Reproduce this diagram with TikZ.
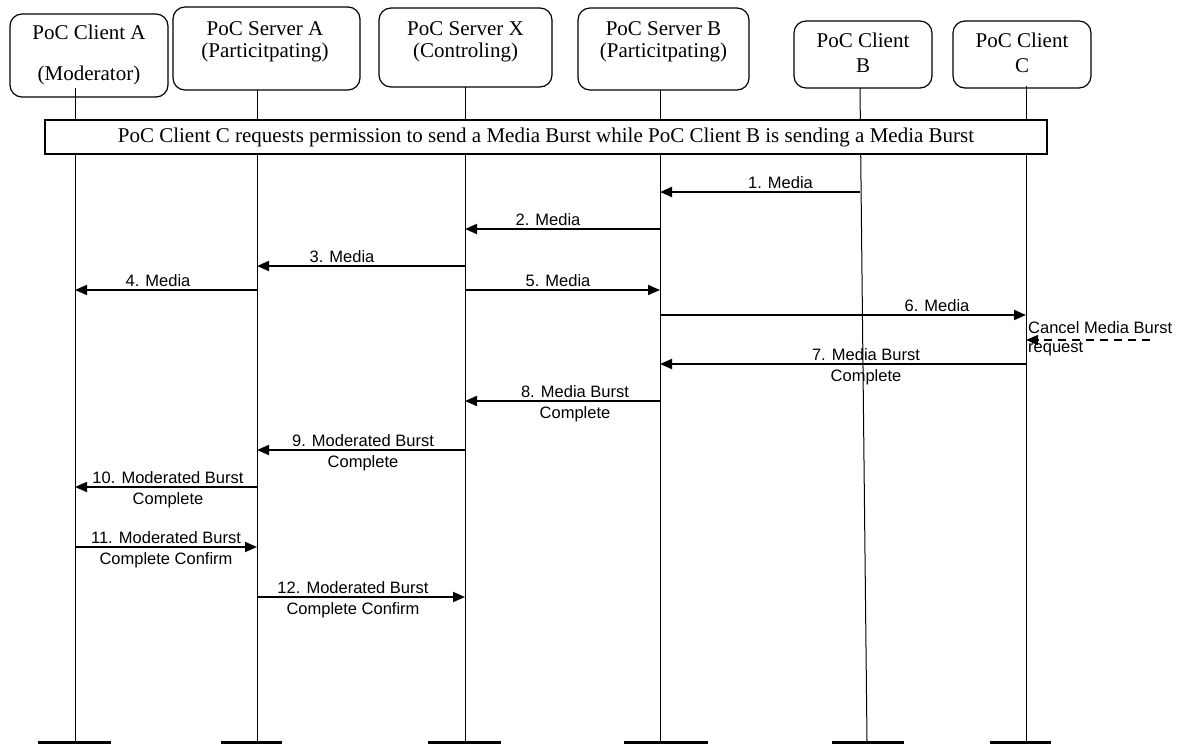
\documentclass[tikz,border=0pt]{standalone}
\usepackage{fontspec}
\setmainfont{Liberation Serif}
\newfontfamily\arialf{Liberation Sans}
\usetikzlibrary{arrows.meta}
\newcommand\hdrtxt[3]{\begin{tabular}[t]{@{}c@{}}#1\\[#3]#2\end{tabular}}
\newcommand\twol[2]{\begin{tabular}[t]{@{}c@{}}#1\\#2\end{tabular}}
\begin{document}
\begin{tikzpicture}[x=1pt,y=-1pt,
  hbox/.style={draw, line width=1.2pt, rounded corners=12pt, inner sep=0pt},
  htext/.style={font=\fontsize{21}{22}\selectfont, inner sep=0pt, anchor=base},
  life/.style={line width=1pt},
  endbar/.style={line width=3pt},
  msg/.style={line width=1.8pt, -{Triangle[length=12pt,width=10pt]}},
  cancelmsg/.style={line width=1.5pt, dash pattern=on 8pt off 6pt, -{Triangle[length=12pt,width=10pt]}},
  lbl/.style={font=\arialf\fontsize{16.5}{21.5}\selectfont, inner sep=0pt, anchor=base},
]
\useasboundingbox[fill=white] (0,0) rectangle (1184,744);

% header boxes
\node[hbox, minimum width=158pt, minimum height=83pt] (ca) at (89,55.5) {};
\node[hbox, minimum width=187pt, minimum height=83pt] (sa) at (266.5,48.5) {};
\node[hbox, minimum width=173pt, minimum height=79pt] (sx) at (465.5,47.5) {};
\node[hbox, minimum width=171pt, minimum height=82pt] (sb) at (663.5,49) {};
\node[hbox, minimum width=138pt, minimum height=67pt] (cb) at (863,54.5) {};
\node[hbox, minimum width=138pt, minimum height=67pt] (cc) at (1022,54.5) {};

\node[htext] (tca) at (89,39.5) {\hdrtxt{PoC Client A}{(Moderator)}{19pt}};
\node[htext] (tsa) at (265,35) {\hdrtxt{PoC Server A}{(Particitpating)}{0pt}};
\node[htext] (tsx) at (465.5,35) {\hdrtxt{PoC Server X}{(Controling)}{0pt}};
\node[htext] (tsb) at (663.5,35) {\hdrtxt{PoC Server B}{(Particitpating)}{0pt}};
\node[htext] (tcb) at (863,47) {\hdrtxt{PoC Client}{B}{3pt}};
\node[htext] (tcc) at (1022,47) {\hdrtxt{PoC Client}{C}{3pt}};

% lifelines
\coordinate (LA) at (75,88);   \coordinate (LAb) at (75,741);
\coordinate (LSA) at (257,90); \coordinate (LSAb) at (257,741);
\coordinate (LX) at (465,87);  \coordinate (LXb) at (465,741);
\coordinate (LB) at (660,90);  \coordinate (LBb) at (660,741);
\coordinate (LCB) at (860,88); \coordinate (LCBb) at (867,741);
\coordinate (LC) at (1026,86); \coordinate (LCb) at (1026,741);
\draw[life] (LA) -- (LAb);
\draw[life] (LSA) -- (LSAb);
\draw[life] (LX) -- (LXb);
\draw[life] (LB) -- (LBb);
\draw[life] (LCB) -- (LCBb);
\draw[life] (LC) -- (LCb);

% end bars
\coordinate (ba1) at (38,742.5);  \coordinate (ba2) at (111,742.5);
\coordinate (bsa1) at (221,742.5); \coordinate (bsa2) at (282,742.5);
\coordinate (bx1) at (428,742.5); \coordinate (bx2) at (501,742.5);
\coordinate (bb1) at (624,742.5); \coordinate (bb2) at (708,742.5);
\coordinate (bcb1) at (832,742.5); \coordinate (bcb2) at (904,742.5);
\coordinate (bc1) at (990,742.5); \coordinate (bc2) at (1051,742.5);
\draw[endbar] (ba1) -- (ba2);
\draw[endbar] (bsa1) -- (bsa2);
\draw[endbar] (bx1) -- (bx2);
\draw[endbar] (bb1) -- (bb2);
\draw[endbar] (bcb1) -- (bcb2);
\draw[endbar] (bc1) -- (bc2);

% banner
\node[draw, line width=1.2pt, fill=white, inner sep=0pt, minimum width=1002pt, minimum height=34pt,
      font=\fontsize{21}{22}\selectfont] (banner) at (546,137)
  {PoC Client C requests permission to send a Media Burst while PoC Client B is sending a Media Burst};

% messages
\draw[msg] (LCB |- 0,192) -- (LB |- 0,192);
\node[lbl] (m1) at (780.5,188) {1. Media};
\draw[msg] (LB |- 0,229) -- (LX |- 0,229);
\node[lbl] (m2) at (548,225) {2. Media};
\draw[msg] (LX |- 0,266) -- (LSA |- 0,266);
\node[lbl] (m3) at (342,262) {3. Media};
\draw[msg] (LSA |- 0,290) -- (LA |- 0,290);
\node[lbl] (m4) at (158,286) {4. Media};
\draw[msg] (LX |- 0,290) -- (LB |- 0,290);
\node[lbl] (m5) at (558,286) {5. Media};
\draw[msg] (LB |- 0,315) -- (LC |- 0,315);
\node[lbl] (m6) at (937,311) {6. Media};

\coordinate (cancelsrc) at (1150,340);
\draw[cancelmsg] (cancelsrc) -- (LC |- 0,340);
\node[lbl, anchor=base west] (cancel) at (1028,333)
  {\begin{tabular}[t]{@{}l@{}}Cancel Media Burst\\[-2pt]request\end{tabular}};

\draw[msg] (LC |- 0,364) -- (LB |- 0,364);
\node[lbl] (m7) at (866,360) {\twol{7. Media Burst}{Complete}};
\draw[msg] (LB |- 0,401) -- (LX |- 0,401);
\node[lbl] (m8) at (575,397) {\twol{8. Media Burst}{Complete}};
\draw[msg] (LX |- 0,450) -- (LSA |- 0,450);
\node[lbl] (m9) at (363,446) {\twol{9. Moderated Burst}{Complete}};
\draw[msg] (LSA |- 0,487) -- (LA |- 0,487);
\node[lbl] (m10) at (168,483) {\twol{10. Moderated Burst}{Complete}};
\draw[msg] (LA |- 0,547) -- (LSA |- 0,547);
\node[lbl] (m11) at (166,543) {\twol{11. Moderated Burst}{Complete Confirm}};
\draw[msg] (LSA |- 0,597) -- (LX |- 0,597);
\node[lbl] (m12) at (353,593) {\twol{12. Moderated Burst}{Complete Confirm}};
\end{tikzpicture}
\end{document}
